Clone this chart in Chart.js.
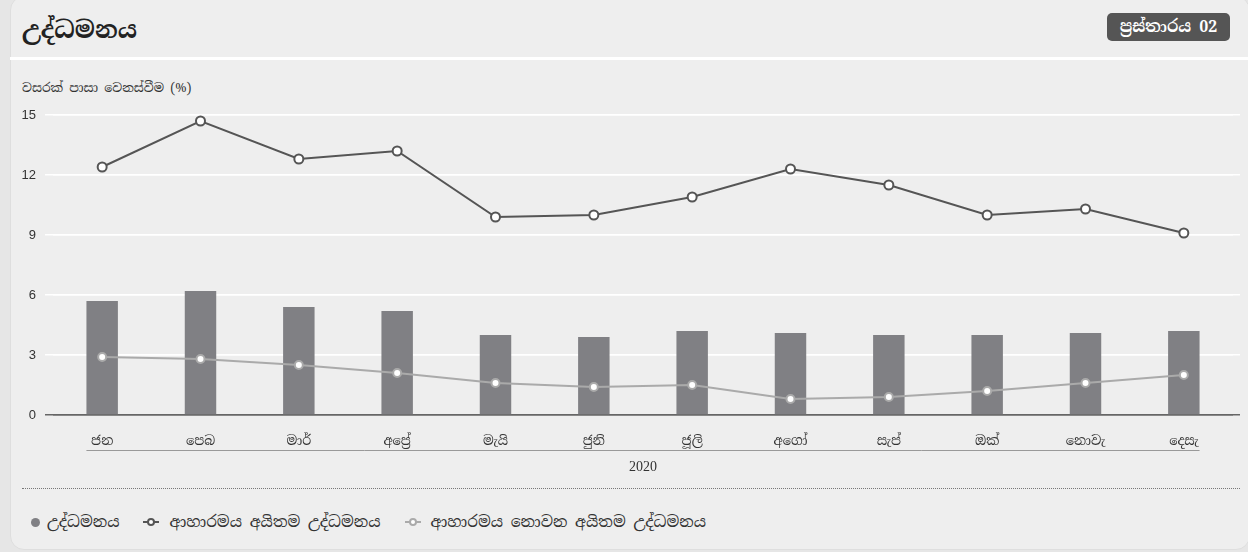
<!DOCTYPE html>
<html>
<head>
<meta charset="utf-8">
<script src="https://cdn.jsdelivr.net/npm/chart.js@4.4.1/dist/chart.umd.min.js"></script>
<style>
  html, body { margin: 0; padding: 0; }
  body { width: 1248px; height: 552px; background: #e6e6e6; position: relative; overflow: hidden;
         font-family: "Noto Serif Sinhala", "Noto Sans Sinhala", "Liberation Serif", serif; color: #333; }
  .card { position: absolute; left: 10px; top: -4px; width: 1240px; height: 554px; background: #eeeeee;
          border-radius: 14px; border: 1px solid #dedede; box-sizing: border-box; }
  .title { position: absolute; left: 22px; top: 14px; font-size: 24px; font-weight: bold; color: #222; }
  .badge { position: absolute; left: 1107px; top: 13px; width: 123px; height: 28px; background: #555;
           border-radius: 5px; color: #fff; font-size: 16px; font-weight: bold; line-height: 28px; text-align: center; }
  .sep { position: absolute; left: 10px; top: 57px; width: 1238px; height: 3px; background: #fff; }
  .ytitle { position: absolute; left: 22px; top: 80px; font-size: 12.5px; color: #333; }
  canvas { position: absolute; left: 0; top: 60px; }
  .dots { position: absolute; left: 22px; top: 488px; width: 1218px; border-top: 1px dotted #777; }
  .legend { position: absolute; left: 31px; top: 512px; font-size: 15.5px; color: #333; display: flex; align-items: center; }
  .legend span.item { display: flex; align-items: center; margin-right: 24px; }
  .mk-dot { width: 9px; height: 9px; border-radius: 50%; background: #808084; margin-right: 7px; }
  .mk-line { position: relative; width: 16px; height: 10px; margin-right: 10px; }
  .mk-line::before { content: ""; position: absolute; left: 0; top: 4px; width: 16px; height: 2px; background: var(--c); }
  .mk-line::after { content: ""; position: absolute; left: 4px; top: 1px; width: 4px; height: 4px; border-radius: 50%;
                    background: #fff; border: 2px solid var(--c); }
</style>
</head>
<body>
<div class="card"></div>
<div class="title">උද්ධමනය</div>
<div class="badge">ප්‍රස්තාරය 02</div>
<div class="sep"></div>
<div class="ytitle">වසරක් පාසා වෙනස්වීම (%)</div>
<canvas id="chart" width="1248" height="420"></canvas>
<div class="dots"></div>
<div class="legend">
  <span class="item"><span class="mk-dot"></span>උද්ධමනය</span>
  <span class="item"><span class="mk-line" style="--c:#555"></span>ආහාරමය අයිතම උද්ධමනය</span>
  <span class="item"><span class="mk-line" style="--c:#aaa"></span>ආහාරමය නොවන අයිතම උද්ධමනය</span>
</div>
<script>
// data
const months = ['ජන', 'පෙබ', 'මාර්', 'අප්‍රේ', 'මැයි', 'ජුනි', 'ජූලි', 'අගෝ', 'සැප්', 'ඔක්', 'නොවැ', 'දෙසැ'];
const yearLabel = '2020';
const inflation = [5.7, 6.2, 5.4, 5.2, 4.0, 3.9, 4.2, 4.1, 4.0, 4.0, 4.1, 4.2];
const foodInflation = [12.4, 14.7, 12.8, 13.2, 9.9, 10.0, 10.9, 12.3, 11.5, 10.0, 10.3, 9.1];
const nonFoodInflation = [2.9, 2.8, 2.5, 2.1, 1.6, 1.4, 1.5, 0.8, 0.9, 1.2, 1.6, 2.0];
const yTicks = [0, 3, 6, 9, 12, 15];

const sinhalaFont = '"Noto Serif Sinhala", "Noto Sans Sinhala", "Liberation Serif", serif';

// line under month labels + year label
const yearGroupPlugin = {
    id: 'yearGroup',
    afterDraw(chart) {
        const bars = chart.getDatasetMeta(0).data;
        if (!bars.length) return;
        const first = bars[0], last = bars[bars.length - 1];
        const x1 = first.x - first.width / 2;
        const x2 = last.x + last.width / 2;
        const ctx = chart.ctx;
        const y = chart.scales.x.top + 35;
        ctx.save();
        ctx.strokeStyle = '#999';
        ctx.lineWidth = 1;
        ctx.beginPath();
        ctx.moveTo(x1, y + 0.5);
        ctx.lineTo(x2, y + 0.5);
        ctx.stroke();
        ctx.fillStyle = '#333';
        ctx.font = '14px "Liberation Serif", serif';
        ctx.textAlign = 'center';
        ctx.textBaseline = 'middle';
        ctx.fillText(yearLabel, (chart.chartArea.left + chart.chartArea.right) / 2, y + 17);
        ctx.restore();
    }
};

const gridColor = ctx => (ctx.tick && ctx.tick.value === 0) ? '#666' : '#ffffff';

new Chart(document.getElementById('chart').getContext('2d'), {
    type: 'bar',
    data: {
        labels: months,
        datasets: [{
            type: 'bar',
            label: 'උද්ධමනය',
            data: inflation,
            backgroundColor: '#808084',
            categoryPercentage: 1,
            barPercentage: 0.32,
            order: 3
        }, {
            type: 'line',
            label: 'ආහාරමය අයිතම උද්ධමනය',
            data: foodInflation,
            borderColor: '#555555',
            borderWidth: 2,
            pointRadius: 4.5,
            pointBorderWidth: 2,
            pointBackgroundColor: '#ffffff',
            pointBorderColor: '#555555',
            order: 1
        }, {
            type: 'line',
            label: 'ආහාරමය නොවන අයිතම උද්ධමනය',
            data: nonFoodInflation,
            borderColor: '#aaaaaa',
            borderWidth: 2,
            pointRadius: 4,
            pointBorderWidth: 2,
            pointBackgroundColor: '#ffffff',
            pointBorderColor: '#aaaaaa',
            order: 2
        }]
    },
    options: {
        responsive: false,
        animation: false,
        devicePixelRatio: 1,
        layout: { padding: { top: 55, left: 0, right: 0, bottom: 0 } },
        plugins: {
            legend: { display: false },
            tooltip: { enabled: false }
        },
        scales: {
            x: {
                grid: { display: false },
                border: { display: false },
                ticks: {
                    color: '#333',
                    padding: 11,
                    font: { family: sinhalaFont, size: 13 }
                },
                afterFit: scale => { scale.height = 65; }
            },
            y: {
                min: 0,
                max: 15,
                afterBuildTicks: scale => { scale.ticks = yTicks.map(v => ({ value: v })); },
                grid: { color: gridColor, lineWidth: 1.5, drawTicks: true, tickLength: 8, tickColor: gridColor },
                border: { display: false },
                ticks: {
                    color: '#333',
                    padding: 9,
                    font: { family: '"Liberation Sans", Arial, sans-serif', size: 13 }
                },
                afterFit: scale => { scale.width = 53; }
            },
            yRight: {
                position: 'right',
                min: 0,
                max: 15,
                afterBuildTicks: scale => { scale.ticks = yTicks.map(v => ({ value: v })); },
                grid: { color: gridColor, lineWidth: 1.5, drawTicks: true, tickLength: 7, tickColor: gridColor },
                border: { display: false },
                ticks: { display: false },
                afterFit: scale => { scale.width = 15; }
            }
        }
    },
    plugins: [yearGroupPlugin]
});
</script>
</body>
</html>
